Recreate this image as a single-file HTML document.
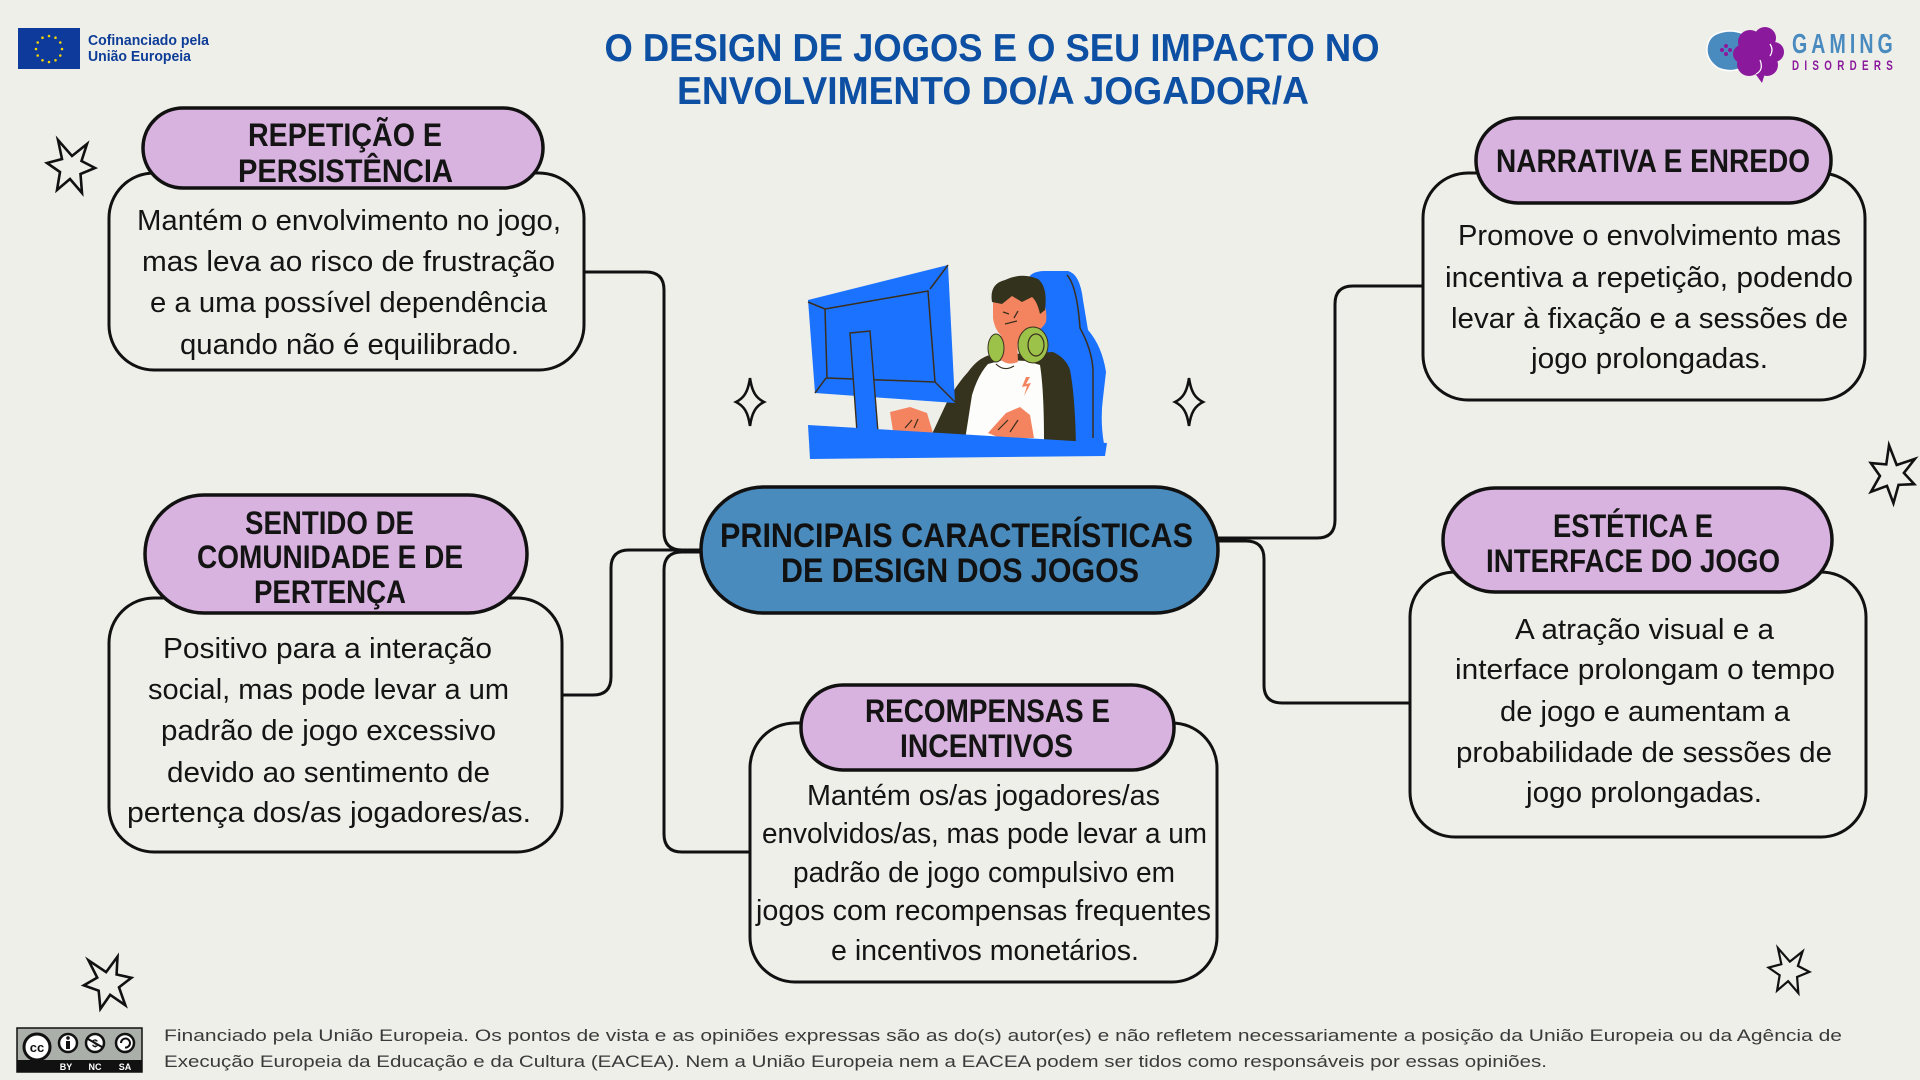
<!DOCTYPE html>
<html><head><meta charset="utf-8"><style>
html,body{margin:0;padding:0;width:1920px;height:1080px;overflow:hidden;background:#efefea}
svg{display:block}
.b{font-family:"Liberation Sans Narrow","Liberation Sans",sans-serif;font-size:29px;fill:#141414;text-anchor:middle}
.h{font-family:"Liberation Sans Narrow","Liberation Sans",sans-serif;font-weight:bold;font-size:32px;fill:#141414;text-anchor:middle}
.c{font-family:"Liberation Sans Narrow","Liberation Sans",sans-serif;font-weight:bold;font-size:34px;fill:#111;text-anchor:middle}
.t{font-family:"Liberation Sans",sans-serif;font-weight:bold;font-size:39px;fill:#0d4fa3;text-anchor:middle}
.f{font-family:"Liberation Sans",sans-serif;font-size:17px;fill:#3a3a3a}
.ln{fill:none;stroke:#111;stroke-width:3}
.box{fill:#efefea;stroke:#111;stroke-width:3}
.pill{fill:#d9b3e0;stroke:#111;stroke-width:3.5}
.st{fill:none;stroke:#111;stroke-width:2.6;stroke-linejoin:miter}
</style></head><body>
<svg width="1920" height="1080" viewBox="0 0 1920 1080" xmlns="http://www.w3.org/2000/svg">
<rect x="0" y="0" width="1920" height="1080" fill="#efefea"/>

<!-- EU logo -->
<rect x="18" y="28" width="62" height="41" fill="#0e3a9c"/>
<g fill="#f5d400">
<circle cx="49" cy="36" r="1.3"/><circle cx="55.5" cy="37.7" r="1.3"/><circle cx="60.3" cy="42.5" r="1.3"/><circle cx="62" cy="49" r="1.3"/><circle cx="60.3" cy="55.5" r="1.3"/><circle cx="55.5" cy="60.3" r="1.3"/><circle cx="49" cy="62" r="1.3"/><circle cx="42.5" cy="60.3" r="1.3"/><circle cx="37.7" cy="55.5" r="1.3"/><circle cx="36" cy="49" r="1.3"/><circle cx="37.7" cy="42.5" r="1.3"/><circle cx="42.5" cy="37.7" r="1.3"/>
</g>
<text x="88" y="45" font-family="Liberation Sans, sans-serif" font-weight="bold" font-size="14.5" fill="#0e3d97" textLength="121" lengthAdjust="spacingAndGlyphs">Cofinanciado pela</text>
<text x="88" y="61" font-family="Liberation Sans, sans-serif" font-weight="bold" font-size="14.5" fill="#0e3d97" textLength="103" lengthAdjust="spacingAndGlyphs">União Europeia</text>

<!-- Title -->
<text class="t" x="992" y="61" textLength="775" lengthAdjust="spacingAndGlyphs">O DESIGN DE JOGOS E O SEU IMPACTO NO</text>
<text class="t" x="993" y="104" textLength="632" lengthAdjust="spacingAndGlyphs">ENVOLVIMENTO DO/A JOGADOR/A</text>

<!-- Gaming Disorders logo -->
<path d="M1716,34 Q1730,28 1744,34 L1746,66 Q1732,74 1718,68 Q1706,60 1707,48 Q1708,38 1716,34Z" fill="#4a8bbf" stroke="#fff" stroke-width="1.5"/>
<g fill="#8a1a9b">
<circle cx="1722" cy="50" r="2"/><circle cx="1726" cy="46" r="2"/><circle cx="1726" cy="54" r="2"/><circle cx="1730" cy="50" r="2"/>
</g>
<g fill="#8a1a9b">
<circle cx="1750" cy="42" r="12"/><circle cx="1765" cy="38" r="11"/><circle cx="1774" cy="52" r="10"/><circle cx="1767" cy="65" r="11"/><circle cx="1749" cy="64" r="12"/><circle cx="1742" cy="54" r="9"/><circle cx="1758" cy="53" r="12"/>
<path d="M1754,72 L1762,83 L1766,70Z"/>
</g>
<path d="M1760,60 Q1764,70 1756,74 M1770,44 Q1774,50 1770,56" fill="none" stroke="#fff" stroke-width="1.2"/>
<g transform="translate(1792,53) scale(0.7,1)">
<text x="0" y="0" font-family="Liberation Sans, sans-serif" font-weight="bold" font-size="28" fill="#4a8bbf" textLength="144" lengthAdjust="spacing">GAMING</text>
</g>
<g transform="translate(1792,70) scale(0.7,1)">
<text x="0" y="0" font-family="Liberation Sans, sans-serif" font-weight="bold" font-size="14" fill="#8a1a9b" textLength="144" lengthAdjust="spacing">DISORDERS</text>
</g>

<!-- Connectors -->
<path class="ln" d="M584,272 H646 Q664,272 664,290 V532 Q664,550 682,550 H702"/>
<path class="ln" d="M702,552 H682 Q664,552 664,570 V834 Q664,852 682,852 H751"/>
<path class="ln" d="M562,695 H593 Q611,695 611,677 V568 Q611,550 629,550 H702"/>
<path class="ln" d="M1216,538 H1317 Q1335,538 1335,520 V304 Q1335,286 1353,286 H1423"/>
<path class="ln" d="M1216,541 H1246 Q1264,541 1264,559 V685 Q1264,703 1282,703 H1410"/>

<!-- Repetição -->
<rect class="box" x="109" y="173" width="475" height="197" rx="45"/>
<rect class="pill" x="143" y="108" width="400" height="80" rx="40"/>
<text class="h" x="345" y="146" textLength="194" lengthAdjust="spacingAndGlyphs">REPETIÇÃO E</text>
<text class="h" x="345.5" y="182" textLength="215" lengthAdjust="spacingAndGlyphs">PERSISTÊNCIA</text>
<text class="b" x="349" y="230" textLength="424" lengthAdjust="spacingAndGlyphs">Mantém o envolvimento no jogo,</text>
<text class="b" x="348.5" y="271" textLength="413" lengthAdjust="spacingAndGlyphs">mas leva ao risco de frustração</text>
<text class="b" x="348.5" y="312" textLength="397" lengthAdjust="spacingAndGlyphs">e a uma possível dependência</text>
<text class="b" x="349.5" y="354" textLength="339" lengthAdjust="spacingAndGlyphs">quando não é equilibrado.</text>

<!-- Narrativa -->
<rect class="box" x="1423" y="173" width="442" height="227" rx="45"/>
<rect class="pill" x="1476" y="118" width="355" height="85" rx="42"/>
<text class="h" x="1653" y="172" textLength="314" lengthAdjust="spacingAndGlyphs">NARRATIVA E ENREDO</text>
<text class="b" x="1649.5" y="245" textLength="383" lengthAdjust="spacingAndGlyphs">Promove o envolvimento mas</text>
<text class="b" x="1649" y="287" textLength="408" lengthAdjust="spacingAndGlyphs">incentiva a repetição, podendo</text>
<text class="b" x="1649.5" y="328" textLength="397" lengthAdjust="spacingAndGlyphs">levar à fixação e a sessões de</text>
<text class="b" x="1649.5" y="368" textLength="237" lengthAdjust="spacingAndGlyphs">jogo prolongadas.</text>

<!-- Sentido -->
<rect class="box" x="109" y="598" width="453" height="254" rx="45"/>
<rect class="pill" x="145" y="495" width="382" height="118" rx="59"/>
<text class="h" x="329.5" y="534" textLength="169" lengthAdjust="spacingAndGlyphs">SENTIDO DE</text>
<text class="h" x="330" y="568" textLength="266" lengthAdjust="spacingAndGlyphs">COMUNIDADE E DE</text>
<text class="h" x="330" y="603" textLength="152" lengthAdjust="spacingAndGlyphs">PERTENÇA</text>
<text class="b" x="327.5" y="658" textLength="329" lengthAdjust="spacingAndGlyphs">Positivo para a interação</text>
<text class="b" x="328.5" y="699" textLength="361" lengthAdjust="spacingAndGlyphs">social, mas pode levar a um</text>
<text class="b" x="328.5" y="740" textLength="335" lengthAdjust="spacingAndGlyphs">padrão de jogo excessivo</text>
<text class="b" x="328.5" y="782" textLength="323" lengthAdjust="spacingAndGlyphs">devido ao sentimento de</text>
<text class="b" x="329" y="822" textLength="404" lengthAdjust="spacingAndGlyphs">pertença dos/as jogadores/as.</text>

<!-- Recompensas -->
<rect class="box" x="750" y="723" width="467" height="259" rx="45"/>
<rect class="pill" x="801" y="685" width="373" height="85" rx="42"/>
<text class="h" x="987.5" y="722" textLength="245" lengthAdjust="spacingAndGlyphs">RECOMPENSAS E</text>
<text class="h" x="986.5" y="757" textLength="173" lengthAdjust="spacingAndGlyphs">INCENTIVOS</text>
<text class="b" x="983.5" y="805" textLength="353" lengthAdjust="spacingAndGlyphs">Mantém os/as jogadores/as</text>
<text class="b" x="984.5" y="843" textLength="445" lengthAdjust="spacingAndGlyphs">envolvidos/as, mas pode levar a um</text>
<text class="b" x="984" y="882" textLength="382" lengthAdjust="spacingAndGlyphs">padrão de jogo compulsivo em</text>
<text class="b" x="983.5" y="920" textLength="455" lengthAdjust="spacingAndGlyphs">jogos com recompensas frequentes</text>
<text class="b" x="985" y="960" textLength="308" lengthAdjust="spacingAndGlyphs">e incentivos monetários.</text>

<!-- Estética -->
<rect class="box" x="1410" y="572" width="456" height="265" rx="45"/>
<rect class="pill" x="1443" y="488" width="389" height="104" rx="52"/>
<text class="h" x="1633" y="537" textLength="160" lengthAdjust="spacingAndGlyphs">ESTÉTICA E</text>
<text class="h" x="1633" y="572" textLength="294" lengthAdjust="spacingAndGlyphs">INTERFACE DO JOGO</text>
<text class="b" x="1644.5" y="639" textLength="259" lengthAdjust="spacingAndGlyphs">A atração visual e a</text>
<text class="b" x="1645" y="679" textLength="380" lengthAdjust="spacingAndGlyphs">interface prolongam o tempo</text>
<text class="b" x="1645" y="721" textLength="290" lengthAdjust="spacingAndGlyphs">de jogo e aumentam a</text>
<text class="b" x="1644" y="762" textLength="376" lengthAdjust="spacingAndGlyphs">probabilidade de sessões de</text>
<text class="b" x="1644" y="802" textLength="236" lengthAdjust="spacingAndGlyphs">jogo prolongadas.</text>

<!-- Center pill -->
<rect x="701" y="487" width="517" height="126" rx="63" fill="#4a8bbd" stroke="#111" stroke-width="3.5"/>
<text class="c" x="956.5" y="547" textLength="473" lengthAdjust="spacingAndGlyphs">PRINCIPAIS CARACTERÍSTICAS</text>
<text class="c" x="960" y="582" textLength="358" lengthAdjust="spacingAndGlyphs">DE DESIGN DOS JOGOS</text>

<!-- Illustration -->
<g>
<path d="M1027,282 Q1029,271 1045,271 L1068,271 Q1080,274 1083,300 L1088,330 Q1102,346 1106,372 L1103,398 Q1100,420 1104,444 L1030,444 Z" fill="#1a72ff"/>
<path d="M1067,275 Q1077,286 1080,328 Q1092,350 1093,370 L1093,438" fill="none" stroke="#3a2f1e" stroke-width="1.5"/>
<path d="M932,434 L947,402 Q957,384 968,372 Q978,358 990,355 L1053,352 Q1066,358 1070,370 Q1075,395 1076,446 L932,446 Z" fill="#35331d"/>
<path d="M965,440 L972,395 Q978,375 988,364 L1003,360 L1027,361 L1040,365 Q1044,390 1044,440 Z" fill="#fdfdfb"/>
<path d="M996,364 Q1004,372 1014,366" fill="none" stroke="#3a2f1e" stroke-width="1.2"/>
<path d="M1026,377 L1022,387 L1027,386 L1024,396 L1031,383 L1026,384 L1030,377Z" fill="#f4845f"/>
<path d="M1000,336 L1017,336 L1018,362 Q1008,366 1001,360 Z" fill="#f4845f"/>
<path d="M993,297 L1040,295 Q1048,308 1046,322 Q1041,331 1033,332 L1031,344 Q1015,346 1005,339 Q995,332 993,318 Z" fill="#f4845f"/>
<path d="M1003,312 L1009,314 M1018,311 L1014,318 M1005,324 L1017,321" fill="none" stroke="#3a2f1e" stroke-width="1.3"/>
<path d="M992,302 Q989,284 1005,280 Q1022,272 1038,279 Q1048,287 1045,310 L1040,314 Q1037,301 1032,297 L1022,302 L1012,296 L1002,304 Z" fill="#33321c"/>
<ellipse cx="996" cy="348" rx="8" ry="14" fill="#9cc24a" stroke="#3a2f1e" stroke-width="1"/>
<ellipse cx="1033" cy="345" rx="15" ry="18" fill="#9cc24a" stroke="#3a2f1e" stroke-width="1"/>
<ellipse cx="1036" cy="345" rx="8" ry="11" fill="none" stroke="#3a2f1e" stroke-width="1.2"/>
<path d="M808,300 L948,265 L955,403 L815,393 Z" fill="#1a72ff"/>
<path d="M825,309 L928,291 L935,382 L827,378 Z M808,302 L825,309 M948,265 L930,289 M955,402 L935,382 M815,393 L826,378" fill="none" stroke="#3a2f1e" stroke-width="1.5"/>
<path d="M850,333 L870,331 L878,432 L857,432 Z" fill="#1a72ff" stroke="#3a2f1e" stroke-width="1.4"/>
<path d="M890,412 L910,407 L927,413 L933,433 L893,431 Z" fill="#f4845f"/>
<path d="M988,433 L1006,413 L1020,407 L1030,415 L1034,438 L1000,438 Z" fill="#f4845f"/>
<path d="M905,428 L912,420 M914,428 L918,419 M998,430 L1008,420 M1010,432 L1018,420" fill="none" stroke="#3a2f1e" stroke-width="1.2"/>
<path d="M808,425 L1107,443 L1105,456 L810,459 Z" fill="#1a72ff"/>
</g>

<!-- sparkles -->
<path class="st" d="M750,378 C752,392 756,398 764,402 C756,406 752,412 750,426 C748,412 744,406 736,402 C744,398 748,392 750,378Z"/>
<path class="st" d="M1189,378 C1191,392 1195,398 1203,402 C1195,406 1191,412 1189,426 C1187,412 1183,406 1175,402 C1183,398 1187,392 1189,378Z"/>

<!-- stars -->
<polygon class="st" points="58,140 72,156 87,144 81.5,161 95,168 80.5,174 82,193 70,179 57,190 60,172 47,163 62,159"/>
<g transform="translate(108,983) rotate(-15) translate(-71,-167)"><polygon class="st" points="58,140 72,156 87,144 81.5,161 95,168 80.5,174 82,193 70,179 57,190 60,172 47,163 62,159"/></g>
<g transform="translate(1892,475) rotate(20) translate(-71,-167)"><polygon class="st" points="58,140 72,156 87,144 81.5,161 95,168 80.5,174 82,193 70,179 57,190 60,172 47,163 62,159"/></g>
<g transform="translate(1789,971) scale(0.85) translate(-71,-167)"><polygon class="st" points="58,140 72,156 87,144 81.5,161 95,168 80.5,174 82,193 70,179 57,190 60,172 47,163 62,159"/></g>

<!-- CC badge -->
<rect x="17" y="1028" width="125" height="44" fill="#aab0a9" stroke="#111" stroke-width="1.5"/>
<rect x="17" y="1060" width="125" height="12" fill="#111"/>
<circle cx="37" cy="1047" r="13" fill="#fff" stroke="#111" stroke-width="3"/>
<text x="37" y="1052" font-family="Liberation Sans, sans-serif" font-weight="bold" font-size="13" fill="#111" text-anchor="middle">cc</text>
<circle cx="68" cy="1043" r="9" fill="#fff" stroke="#111" stroke-width="2.5"/>
<circle cx="68" cy="1038" r="1.8" fill="#111"/><rect x="66" y="1041" width="4" height="8" fill="#111"/>
<circle cx="95" cy="1043" r="9" fill="#fff" stroke="#111" stroke-width="2.5"/>
<text x="95" y="1047" font-family="Liberation Sans, sans-serif" font-weight="bold" font-size="11" fill="#111" text-anchor="middle">$</text>
<path d="M88,1039 L102,1047" stroke="#111" stroke-width="2"/>
<circle cx="125" cy="1043" r="9" fill="#fff" stroke="#111" stroke-width="2.5"/>
<path d="M121,1043 A4.5,4.5 0 1 1 125,1047.5" fill="none" stroke="#111" stroke-width="2"/>
<text x="66" y="1070" font-family="Liberation Sans, sans-serif" font-weight="bold" font-size="9" fill="#fff" text-anchor="middle">BY</text>
<text x="95" y="1070" font-family="Liberation Sans, sans-serif" font-weight="bold" font-size="9" fill="#fff" text-anchor="middle">NC</text>
<text x="125" y="1070" font-family="Liberation Sans, sans-serif" font-weight="bold" font-size="9" fill="#fff" text-anchor="middle">SA</text>

<!-- footer -->
<text class="f" x="164" y="1041" textLength="1678" lengthAdjust="spacingAndGlyphs">Financiado pela União Europeia. Os pontos de vista e as opiniões expressas são as do(s) autor(es) e não refletem necessariamente a posição da União Europeia ou da Agência de</text>
<text class="f" x="164" y="1067" textLength="1383" lengthAdjust="spacingAndGlyphs">Execução Europeia da Educação e da Cultura (EACEA). Nem a União Europeia nem a EACEA podem ser tidos como responsáveis por essas opiniões.</text>
</svg>
</body></html>
